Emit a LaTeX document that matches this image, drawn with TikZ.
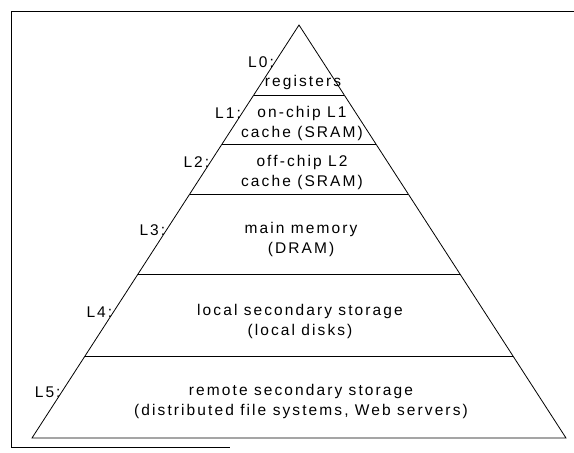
\documentclass[tikz,border=0pt]{standalone}
\usepackage{fontspec}
\usetikzlibrary{calc}
\setmainfont{Liberation Sans}[LetterSpace=13.5]
\begin{document}
\begin{tikzpicture}[x=1pt,y=-1pt,
  edge/.style={line width=0.8pt, line join=miter},
  level/.style={align=center, font=\fontsize{15.5}{20}\selectfont, inner sep=0pt},
  lbl/.style={anchor=east, font=\fontsize{15.5}{20}\selectfont, inner sep=0pt}]
\useasboundingbox (0,0) rectangle (574,453);
% frame
\draw[line width=0.8pt] (574,11) -- (11,11) -- (11,447) -- (230,447);
% pyramid
\coordinate (A) at (299,25);
\coordinate (BL) at (32,438);
\coordinate (BR) at (566,438);
\draw[edge] (A) -- (BL) -- (BR) -- cycle;
\foreach \t/\n in {0.1695/a,0.2881/b,0.4092/c,0.6029/d,0.8015/e}{
  \coordinate (l\n) at ($(A)!\t!(BL)$);
  \coordinate (r\n) at ($(A)!\t!(BR)$);
  \draw[edge] (l\n) -- (r\n);
}
% level texts
\node[level] (t0) at (303,82) {registers};
\node[level] (t1) at (302,123) {on-chip L1\\cache (SRAM)};
\node[level] (t2) at (302,172) {off-chip L2\\cache (SRAM)};
\node[level] (t3) at (301,239) {main memory\\(DRAM)};
\node[level] (t4) at (300,321) {local secondary storage\\(local disks)};
\node[level] (t5) at (301,401) {remote secondary storage\\(distributed file systems, Web servers)};
% labels
\coordinate (e0) at ($(A)!0.0896!(BL)$);
\coordinate (e1) at ($(A)!0.2131!(BL)$);
\coordinate (e2) at ($(A)!0.3317!(BL)$);
\coordinate (e3) at ($(A)!0.4964!(BL)$);
\coordinate (e4) at ($(A)!0.6949!(BL)$);
\coordinate (e5) at ($(A)!0.8886!(BL)$);
\node[lbl] (L0) at ([xshift=-1]e0) {L0:};
\node[lbl] (L1) at ([xshift=-1]e1) {L1:};
\node[lbl] (L2) at ([xshift=-1]e2) {L2:};
\node[lbl] (L3) at ([xshift=-1]e3) {L3:};
\node[lbl] (L4) at ([xshift=-1]e4) {L4:};
\node[lbl] (L5) at ([xshift=-1]e5) {L5:};
\end{tikzpicture}
\end{document}
